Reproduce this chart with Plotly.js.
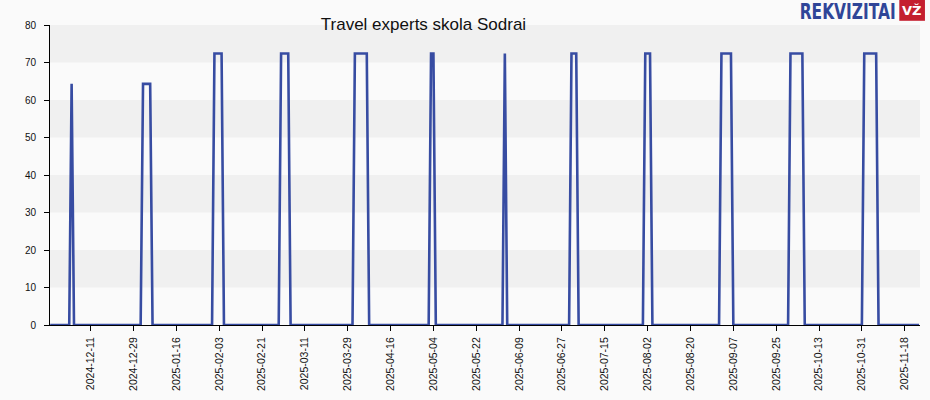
<!DOCTYPE html>
<html>
<head>
<meta charset="utf-8">
<script src="https://cdn.plot.ly/plotly-3.0.1.min.js"></script>
<style>
  html, body { margin: 0; padding: 0; background: #fafafa; }
  #chart { width: 930px; height: 400px; }
</style>
</head>
<body>
<div id="chart"></div>
<script>
// ---- data (change points of the series; the line joins them) ----
const dates = [
  '2024-11-24','2024-12-02','2024-12-03','2024-12-04',
  '2025-01-01','2025-01-02','2025-01-05','2025-01-06',
  '2025-01-31','2025-02-01','2025-02-04','2025-02-05',
  '2025-02-28','2025-03-01','2025-03-04','2025-03-05',
  '2025-03-31','2025-04-01','2025-04-06','2025-04-07',
  '2025-05-02','2025-05-03','2025-05-04','2025-05-05',
  '2025-06-02','2025-06-03','2025-06-04',
  '2025-06-30','2025-07-01','2025-07-03','2025-07-04',
  '2025-07-31','2025-08-01','2025-08-03','2025-08-04',
  '2025-09-01','2025-09-02','2025-09-06','2025-09-07',
  '2025-09-30','2025-10-01','2025-10-06','2025-10-07',
  '2025-10-31','2025-11-01','2025-11-06','2025-11-07',
  '2025-11-24'
];
const values = [
  0, 0, 64.3, 0,
  0, 64.3, 64.3, 0,
  0, 72.4, 72.4, 0,
  0, 72.4, 72.4, 0,
  0, 72.4, 72.4, 0,
  0, 72.4, 72.4, 0,
  0, 72.4, 0,
  0, 72.4, 72.4, 0,
  0, 72.4, 72.4, 0,
  0, 72.4, 72.4, 0,
  0, 72.4, 72.4, 0,
  0, 72.4, 72.4, 0,
  0
];
const xTickVals = [
  '2024-12-11','2024-12-29','2025-01-16','2025-02-03','2025-02-21',
  '2025-03-11','2025-03-29','2025-04-16','2025-05-04','2025-05-22',
  '2025-06-09','2025-06-27','2025-07-15','2025-08-02','2025-08-20',
  '2025-09-07','2025-09-25','2025-10-13','2025-10-31','2025-11-18'
];
const yTickVals = [0, 10, 20, 30, 40, 50, 60, 70, 80];
const bandRanges = [[10, 20], [30, 40], [50, 60], [70, 80]];
const titleText = 'Travel experts skola Sodrai';
const logoText = 'REKVIZITAI';
const logoBadge = 'VŽ';

// ---- chart ----
const trace = {
  x: dates,
  y: values,
  type: 'scatter',
  mode: 'lines',
  line: { color: 'rgb(55,76,162)', width: 2.6 },
  hoverinfo: 'x+y'
};

const shapes = bandRanges.map(r => ({
  type: 'rect', xref: 'paper', yref: 'y', x0: 0, x1: 1, y0: r[0], y1: r[1],
  fillcolor: '#f0f0f0', line: { width: 0 }, layer: 'below'
}));
shapes.push({
  type: 'rect', xref: 'paper', yref: 'paper',
  x0: 0.9762, x1: 1.0057, y0: 1.014, y1: 1.0833,
  fillcolor: '#c41f2f', line: { width: 0 }, layer: 'above'
});

const layout = {
  width: 930, height: 400,
  margin: { l: 50, r: 10, t: 25, b: 75 },
  paper_bgcolor: '#fafafa',
  plot_bgcolor: '#fafafa',
  showlegend: false,
  font: { family: 'Liberation Sans, Arial, sans-serif', size: 10, color: '#111' },
  title: {
    text: titleText,
    font: { family: 'Liberation Sans, Arial, sans-serif', size: 17, color: '#111' },
    xref: 'paper', x: 0.4293, xanchor: 'center',
    yref: 'container', y: 0.939, yanchor: 'middle'
  },
  xaxis: {
    type: 'date',
    range: ['2024-11-23 22:00', '2025-11-24 10:00'],
    tickmode: 'array',
    tickvals: xTickVals,
    ticktext: xTickVals,
    tickangle: -90,
    ticks: 'outside', ticklen: 5, tickcolor: '#000', tickwidth: 1,
    showline: true, linecolor: '#000', linewidth: 1,
    showgrid: false, zeroline: false,
    ticklabelstandoff: 2,
    tickfont: { size: 10.5, color: '#111' },
    fixedrange: true
  },
  yaxis: {
    range: [0, 80],
    tickmode: 'array',
    tickvals: yTickVals,
    ticks: 'outside', ticklen: 5, tickcolor: '#000', tickwidth: 1,
    showline: true, linecolor: '#000', linewidth: 1,
    showgrid: false, zeroline: false,
    ticklabelstandoff: 6,
    tickfont: { size: 10, color: '#111' },
    fixedrange: true
  },
  shapes: shapes,
  annotations: [
    {
      text: '<b>' + logoText + '</b>', xref: 'paper', yref: 'paper',
      x: 0.9172, y: 1.0433, xanchor: 'center', yanchor: 'middle',
      showarrow: false,
      font: { family: 'DejaVu Sans Condensed, DejaVu Sans, sans-serif', size: 21, color: '#2f4598' }
    },
    {
      text: '<b>' + logoBadge + '</b>', xref: 'paper', yref: 'paper',
      x: 0.991, y: 1.049, xanchor: 'center', yanchor: 'middle',
      showarrow: false,
      font: { family: 'DejaVu Sans, sans-serif', size: 13, color: '#ffffff' }
    }
  ]
};

Plotly.newPlot('chart', [trace], layout, { displayModeBar: false, staticPlot: true }).then(() => {
  // squeeze the logo word horizontally to its condensed look
  const texts = document.querySelectorAll('.annotation-text');
  if (texts.length) {
    const t = texts[0];
    const bb = t.getBBox();
    const target = 96;
    const s = target / bb.width;
    const cx = bb.x + bb.width / 2;
    t.setAttribute('transform', `translate(${cx},0) scale(${s},1) translate(${-cx},0)`);
  }
});
</script>
</body>
</html>
